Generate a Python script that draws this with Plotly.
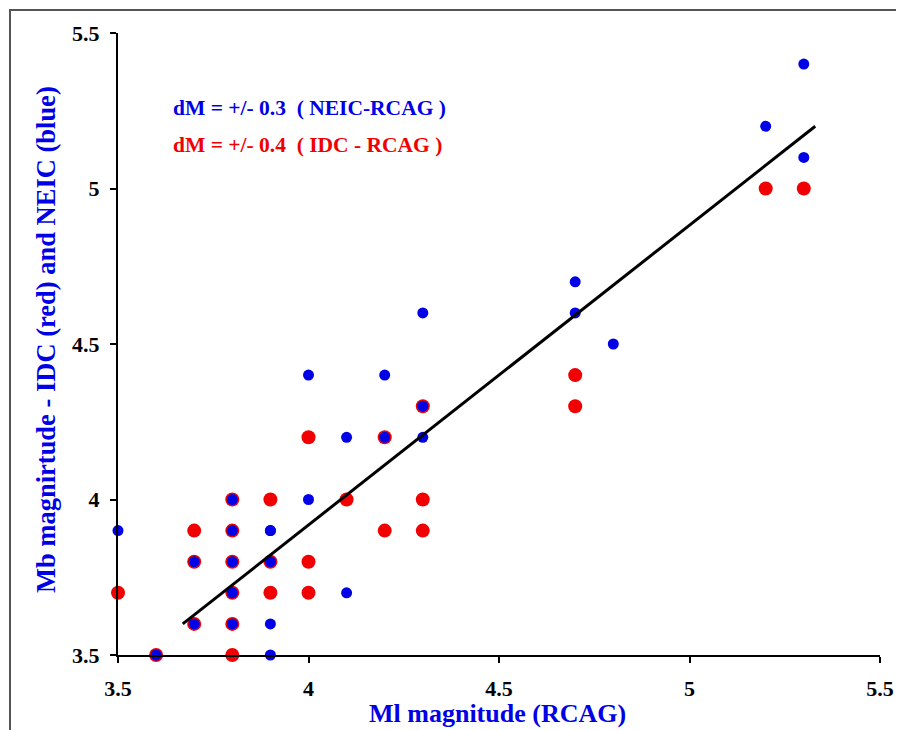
import plotly.graph_objects as go

# IDC (red) points: (RCAG Ml, IDC Mb)
idc_x = [3.5, 3.6, 3.7, 3.7, 3.7, 3.8, 3.8, 3.8, 3.8, 3.8, 3.8, 3.9, 3.9, 3.9,
         4.0, 4.0, 4.0, 4.1, 4.2, 4.2, 4.3, 4.3, 4.3, 4.7, 4.7, 5.2, 5.3]
idc_y = [3.7, 3.5, 3.9, 3.8, 3.6, 4.0, 3.9, 3.8, 3.7, 3.6, 3.5, 4.0, 3.8, 3.7,
         4.2, 3.8, 3.7, 4.0, 4.2, 3.9, 4.3, 4.0, 3.9, 4.4, 4.3, 5.0, 5.0]

# NEIC (blue) points: (RCAG Ml, NEIC Mb)
neic_x = [3.5, 3.6, 3.7, 3.7, 3.8, 3.8, 3.8, 3.8, 3.8, 3.9, 3.9, 3.9, 3.9, 3.9,
          4.0, 4.0, 4.1, 4.1, 4.2, 4.2, 4.3, 4.3, 4.3, 4.7, 4.7, 4.8, 5.2, 5.3, 5.3]
neic_y = [3.9, 3.5, 3.8, 3.6, 4.0, 3.9, 3.8, 3.7, 3.6, 3.9, 3.8, 3.6, 3.5, 3.9,
          4.4, 4.0, 4.2, 3.7, 4.4, 4.2, 4.6, 4.3, 4.2, 4.7, 4.6, 4.5, 5.2, 5.4, 5.1]

# Fit line end points
fit_x = [3.67, 5.33]
fit_y = [3.60, 5.20]

ticks = [3.5, 4, 4.5, 5, 5.5]
tick_text = ["3.5", "4", "4.5", "5", "5.5"]

FONT = "Liberation Serif"
BLUE = "#0000e6"
RED = "#f00000"

W, H = 896, 730
L, R, T, B = 118, 16, 33, 75
PW, PH = W - L - R, H - T - B


def px(xf):
    return (xf - L) / PW


def py(yf):
    return (T + PH - yf) / PH


fig = go.Figure()
fig.add_trace(go.Scatter(x=idc_x, y=idc_y, mode="markers",
                         marker=dict(color=RED, size=14, line=dict(width=0)),
                         cliponaxis=False, showlegend=False))
fig.add_trace(go.Scatter(x=neic_x, y=neic_y, mode="markers",
                         marker=dict(color=BLUE, size=11, line=dict(width=0)),
                         cliponaxis=False, showlegend=False))
fig.add_trace(go.Scatter(x=fit_x, y=fit_y, mode="lines",
                         line=dict(color="black", width=3),
                         cliponaxis=False, showlegend=False))

tickfont = dict(family=FONT, size=22, color="black", weight="bold")

fig.update_layout(
    width=W, height=H, autosize=False,
    margin=dict(l=L, r=R, t=T, b=B, autoexpand=False),
    paper_bgcolor="white", plot_bgcolor="white",
    font=dict(family=FONT, size=16, color="black"),
    xaxis=dict(range=[3.5, 5.5], tickvals=ticks, ticktext=tick_text, automargin=False,
               showgrid=False, zeroline=False, showline=True, linecolor="black",
               linewidth=2, ticks="outside", ticklen=6, tickwidth=2, tickcolor="black",
               tickfont=tickfont, ticklabelstandoff=7, ticklabeloverflow="allow"),
    yaxis=dict(range=[3.5, 5.5], tickvals=ticks, ticktext=tick_text, automargin=False,
               showgrid=False, zeroline=False, showline=True, linecolor="black",
               linewidth=2, ticks="outside", ticklen=6, tickwidth=2, tickcolor="black",
               tickfont=tickfont, ticklabelstandoff=6),
    annotations=[
        dict(text="Ml magnitude (RCAG)", xref="paper", yref="paper",
             x=px(497), y=py(713), xanchor="center", yanchor="middle",
             showarrow=False, font=dict(family=FONT, size=26, color=BLUE, weight="bold")),
        dict(text="Mb magnirtude - IDC (red) and NEIC (blue)", xref="paper", yref="paper",
             x=px(46), y=py(340), xanchor="center", yanchor="middle", textangle=-90,
             showarrow=False, font=dict(family=FONT, size=26.5, color=BLUE, weight="bold")),
        dict(text="dM = +/- 0.3  ( NEIC-RCAG )", xref="paper", yref="paper",
             x=px(171), y=py(108), xanchor="left", yanchor="middle",
             showarrow=False, font=dict(family=FONT, size=21.5, color=BLUE, weight="bold")),
        dict(text="dM = +/- 0.4  ( IDC - RCAG )", xref="paper", yref="paper",
             x=px(171), y=py(145), xanchor="left", yanchor="middle",
             showarrow=False, font=dict(family=FONT, size=21.5, color=RED, weight="bold")),
    ],
    shapes=[dict(type="rect", xref="paper", yref="paper",
                 x0=px(10), x1=px(W + 20), y0=py(H + 20), y1=py(10),
                 line=dict(color="#555555", width=2), fillcolor="rgba(0,0,0,0)",
                 layer="below")],
)

fig.write_html("out.html", config={"displayModeBar": False},
               post_script="document.body.style.margin='0px';")
